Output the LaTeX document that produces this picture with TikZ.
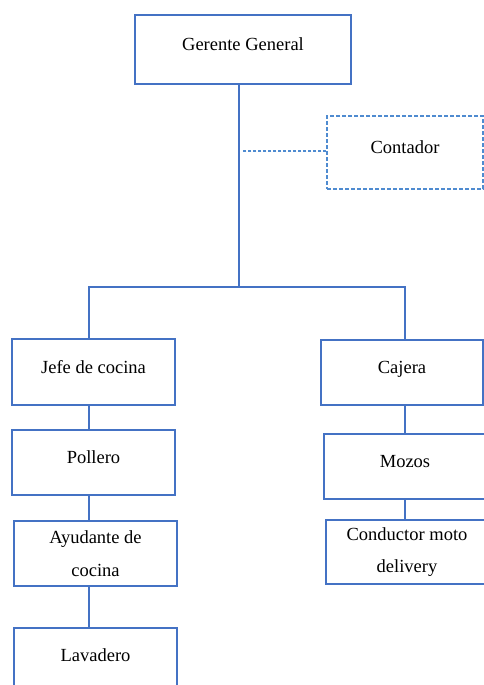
\documentclass[tikz,border=0pt]{standalone}
\usepackage{fontspec}
\setmainfont{Liberation Serif}
\usepackage{xcolor}
\usepackage{tikz}
\definecolor{boxblue}{HTML}{4472C4}
\definecolor{dashblue}{HTML}{4F8BD0}

\begin{document}
\begin{tikzpicture}[x=1pt,y=-1pt,font=\fontsize{18.5pt}{32.7pt}\selectfont,
  post/.style={draw=boxblue,line width=1.4pt,inner sep=0pt,text height=12pt,text depth=10pt},
  post2/.style={draw=boxblue,line width=1.4pt,inner sep=0pt,align=center},
  staffbox/.style={draw=dashblue,line width=1.3pt,inner sep=0pt,dash pattern=on 4pt off 2pt,text height=12pt,text depth=10pt},
  link/.style={draw=boxblue,line width=1.1pt},
  staff/.style={draw=dashblue,line width=1.1pt,dash pattern=on 3pt off 2pt}]
  \useasboundingbox (0,0) rectangle (484,685);
  \clip (0,0) rectangle (484,685);

  % top of the chart
  \node[post,minimum width=216pt,minimum height=69pt] (gerente) at (243,49.5) {Gerente General};
  \node[staffbox,minimum width=156pt,minimum height=73pt] (contador) at (405,152.5) {Contador};

  % kitchen side
  \node[post,minimum width=163pt,minimum height=66pt] (jefe) at (93.5,372) {Jefe de cocina};
  \node[post,minimum width=163pt,minimum height=65pt] (pollero) at (93.5,462.5) {Pollero};
  \node[post2,minimum width=163pt,minimum height=65pt] (ayudante) at (95.5,553.5) {Ayudante de\\cocina};
  \node[post,minimum width=163pt,minimum height=65pt] (lavadero) at (95.5,660.5) {Lavadero};

  % hall side
  \node[post,minimum width=162pt,minimum height=65pt] (cajera) at (402,372.5) {Cajera};
  \node[post,minimum width=162pt,minimum height=65pt] (mozos) at (405,466.5) {Mozos};
  \node[post2,minimum width=162pt,minimum height=64pt] (conductor) at (407,552) {Conductor moto\\delivery};

  \coordinate (trunk) at (239,287);
  \coordinate (barL) at (89,287);
  \coordinate (barR) at (405,287);
  \coordinate (tap) at (242,151);

  \draw[link] (gerente.south -| trunk) -- (trunk);
  \draw[link] (jefe.north -| barL) -- (barL) -- (barR) -- (cajera.north -| barR);
  \draw[link] (jefe.south -| barL) -- (pollero.north -| barL);
  \draw[link] (pollero.south -| barL) -- (ayudante.north -| barL);
  \draw[link] (ayudante.south -| barL) -- (lavadero.north -| barL);
  \draw[link] (cajera.south -| barR) -- (mozos.north -| barR);
  \draw[link] (mozos.south -| barR) -- (conductor.north -| barR);
  \draw[staff] (contador.west |- tap) -- (tap);
\end{tikzpicture}
\end{document}
